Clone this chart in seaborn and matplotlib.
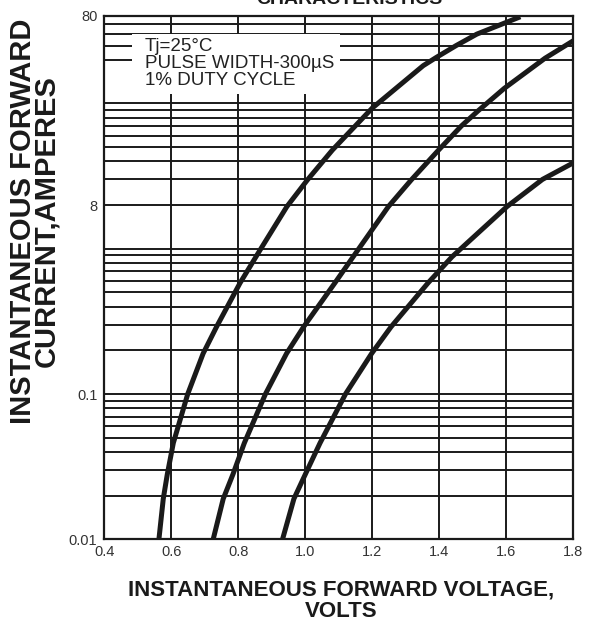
import matplotlib
matplotlib.use('Agg')
import matplotlib.pyplot as plt
import matplotlib.ticker as mticker
from matplotlib.patches import Rectangle
import pandas as pd
import seaborn as sns

# curves (volts, amperes)
v_low = [0.563, 0.576, 0.588, 0.606, 0.649, 0.695, 0.735, 0.805, 0.865, 0.945,
         1.006, 1.081, 1.20, 1.352, 1.392, 1.450, 1.512, 1.642]
i_low = [0.01, 0.019, 0.028, 0.046, 0.1, 0.19, 0.29, 0.58, 0.98, 1.95,
         2.97, 4.78, 9.3, 18.2, 20.8, 25, 30, 39.5]

v_mid = [0.725, 0.755, 0.784, 0.818, 0.881, 0.944, 0.995, 1.088, 1.157, 1.248,
         1.316, 1.398, 1.466, 1.516, 1.594, 1.716, 1.80]
i_mid = [0.01, 0.019, 0.028, 0.046, 0.1, 0.19, 0.29, 0.58, 0.98, 1.95,
         2.97, 4.78, 7.0, 8.9, 12.7, 20.5, 27]

v_high = [0.932, 0.966, 1.0, 1.044, 1.12, 1.198, 1.256, 1.366, 1.438, 1.602,
          1.708, 1.80]
i_high = [0.01, 0.019, 0.028, 0.046, 0.1, 0.19, 0.29, 0.58, 0.88, 1.95,
          3.0, 3.9]

x_ticks = [0.4, 0.6, 0.8, 1.0, 1.2, 1.4, 1.6, 1.8]
x_labels = ['0.4', '0.6', '0.8', '1.0', '1.2', '1.4', '1.6', '1.8']
# labels as printed on the sheet
y_ticks = [0.01, 0.1, 2, 40]
y_labels = ['0.01', '0.1', '8', '80']
y_grid = [k * 10.0 ** d for d in (-2, -1, 0) for k in range(1, 10)] + [10, 20, 25, 30, 35]

note = 'Tj=25°C\nPULSE WIDTH-300µS\n1% DUTY CYCLE'

frames = []
for name, v, i in [('a', v_low, i_low), ('b', v_mid, i_mid), ('c', v_high, i_high)]:
    frames.append(pd.DataFrame({'V': v, 'I': i, 'curve': name}))
df = pd.concat(frames, ignore_index=True)

sns.set_style('white')
plt.rcParams['font.family'] = ['Liberation Sans', 'DejaVu Sans']
ink = '#1a1a1a'

fig = plt.figure(figsize=(5.91, 6.24), dpi=100)
ax = fig.add_axes([0.1765, 0.1357, 0.7935, 0.8387])

sns.lineplot(data=df, x='V', y='I', hue='curve', palette=[ink, ink, ink],
             estimator=None, sort=False, legend=False, lw=3.6, ax=ax, zorder=3,
             solid_joinstyle='round', solid_capstyle='butt')

ax.set_yscale('log')
ax.set_xlim(0.4, 1.8)
ax.set_ylim(0.01, 40)

ax.set_xticks(x_ticks)
ax.set_xticklabels(x_labels)
ax.yaxis.set_major_locator(mticker.FixedLocator(y_ticks))
ax.yaxis.set_major_formatter(mticker.FixedFormatter(y_labels))
ax.yaxis.set_minor_locator(mticker.FixedLocator(y_grid))
ax.yaxis.set_minor_formatter(mticker.NullFormatter())

ax.set_axisbelow(True)
ax.grid(True, which='both', color=ink, lw=1.4)
ax.tick_params(which='both', length=0, labelsize=10.5, labelcolor='#333333')
ax.tick_params(axis='y', pad=5)
ax.tick_params(axis='x', pad=4)
for s in ax.spines.values():
    s.set_color(ink)
    s.set_linewidth(1.6)

ax.add_patch(Rectangle((0.059, 0.851), 0.444, 0.115, transform=ax.transAxes,
                       facecolor='white', edgecolor='none', zorder=1.5))
ax.text(0.087, 0.909, note, transform=ax.transAxes, ha='left', va='center',
        fontsize=13.5, color='#222222', linespacing=0.98, zorder=4)

ax.set_xlabel('INSTANTANEOUS FORWARD VOLTAGE,\nVOLTS', fontweight='bold',
              fontsize=16, color=ink, linespacing=1.0,
              ha='center', va='center', multialignment='center')
ax.xaxis.set_label_coords(0.505, -0.117)
ax.set_ylabel('INSTANTANEOUS FORWARD\nCURRENT,AMPERES', fontweight='bold',
              fontsize=21, color=ink, linespacing=0.78,
              ha='center', va='center', multialignment='center')
ax.yaxis.set_label_coords(-0.148, 0.608)

# sheet title, cut off by the top edge as in the scan
fig.text(349 / 591, 1 - 4 / 624, 'CHARACTERISTICS', fontweight='bold',
         fontsize=14, color=ink, ha='center', va='baseline')

fig.savefig('out.png', dpi=100)
